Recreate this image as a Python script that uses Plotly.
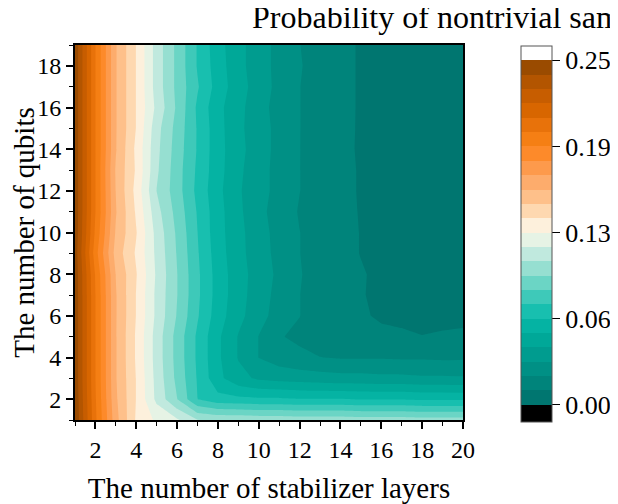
import plotly.graph_objects as go

# ---- data ----
layers = list(range(1, 21))          # x: number of stabilizer layers
qubits = list(range(1, 20))          # y: number of qubits

# probability of nontrivial samples, one row per qubit count (1..19), columns = layers 1..20
prob = [
    [0.249, 0.200, 0.160, 0.134, 0.123, 0.116, 0.1045, 0.1025, 0.102, 0.101, 0.101, 0.100, 0.100, 0.100, 0.099, 0.099, 0.099, 0.098, 0.098, 0.098],
    [0.248, 0.199, 0.158, 0.135, 0.112, 0.094, 0.073, 0.066, 0.065, 0.064, 0.064, 0.063, 0.063, 0.063, 0.062, 0.062, 0.062, 0.061, 0.061, 0.061],
    [0.247, 0.198, 0.157, 0.135, 0.111, 0.091, 0.072, 0.055, 0.045, 0.040, 0.038, 0.037, 0.036, 0.035, 0.035, 0.034, 0.034, 0.033, 0.033, 0.0325],
    [0.247, 0.198, 0.157, 0.134, 0.110, 0.090, 0.071, 0.054, 0.041, 0.031, 0.026, 0.023, 0.021, 0.020, 0.020, 0.020, 0.0195, 0.0195, 0.019, 0.0195],
    [0.247, 0.198, 0.157, 0.134, 0.110, 0.090, 0.071, 0.054, 0.041, 0.031, 0.0215, 0.019, 0.016, 0.014, 0.0125, 0.0115, 0.011, 0.0105, 0.0108, 0.011],
    [0.247, 0.198, 0.157, 0.135, 0.112, 0.093, 0.074, 0.057, 0.045, 0.035, 0.027, 0.021, 0.016, 0.0135, 0.011, 0.0098, 0.0096, 0.0094, 0.0095, 0.0096],
    [0.247, 0.198, 0.157, 0.135, 0.112, 0.094, 0.075, 0.058, 0.046, 0.036, 0.028, 0.021, 0.016, 0.013, 0.0108, 0.0092, 0.0085, 0.008, 0.008, 0.008],
    [0.247, 0.197, 0.156, 0.136, 0.113, 0.094, 0.075, 0.058, 0.046, 0.037, 0.029, 0.0215, 0.0165, 0.013, 0.011, 0.009, 0.008, 0.0075, 0.0075, 0.0075],
    [0.246, 0.192, 0.152, 0.134, 0.112, 0.093, 0.074, 0.057, 0.045, 0.036, 0.028, 0.021, 0.016, 0.0125, 0.0102, 0.0088, 0.008, 0.0075, 0.0072, 0.007],
    [0.247, 0.196, 0.155, 0.136, 0.111, 0.092, 0.073, 0.056, 0.045, 0.035, 0.028, 0.021, 0.016, 0.0125, 0.0102, 0.0085, 0.0078, 0.0072, 0.007, 0.0068],
    [0.247, 0.198, 0.157, 0.134, 0.108, 0.090, 0.072, 0.056, 0.044, 0.034, 0.027, 0.020, 0.016, 0.0125, 0.010, 0.0085, 0.0078, 0.0072, 0.007, 0.0068],
    [0.247, 0.198, 0.156, 0.132, 0.104, 0.088, 0.070, 0.055, 0.043, 0.035, 0.028, 0.021, 0.016, 0.0125, 0.0098, 0.0085, 0.0078, 0.0072, 0.007, 0.0068],
    [0.247, 0.198, 0.155, 0.134, 0.106, 0.088, 0.071, 0.056, 0.044, 0.035, 0.028, 0.021, 0.016, 0.0125, 0.0098, 0.0085, 0.0078, 0.0072, 0.007, 0.0068],
    [0.247, 0.198, 0.157, 0.133, 0.107, 0.089, 0.072, 0.056, 0.045, 0.036, 0.028, 0.021, 0.0165, 0.0125, 0.0095, 0.0085, 0.0078, 0.0072, 0.007, 0.0068],
    [0.247, 0.198, 0.157, 0.135, 0.108, 0.090, 0.072, 0.056, 0.044, 0.036, 0.028, 0.021, 0.017, 0.0128, 0.0095, 0.0085, 0.0078, 0.0072, 0.007, 0.0068],
    [0.247, 0.198, 0.157, 0.135, 0.112, 0.092, 0.071, 0.055, 0.045, 0.035, 0.0275, 0.021, 0.017, 0.013, 0.0095, 0.0085, 0.0078, 0.0072, 0.007, 0.0068],
    [0.247, 0.198, 0.157, 0.135, 0.110, 0.091, 0.074, 0.058, 0.046, 0.037, 0.028, 0.021, 0.017, 0.013, 0.0095, 0.0085, 0.0078, 0.0072, 0.007, 0.0068],
    [0.247, 0.198, 0.157, 0.135, 0.110, 0.091, 0.072, 0.057, 0.045, 0.036, 0.028, 0.0215, 0.017, 0.013, 0.0095, 0.0085, 0.0078, 0.0072, 0.007, 0.0068],
    [0.247, 0.198, 0.157, 0.135, 0.110, 0.091, 0.072, 0.056, 0.045, 0.036, 0.028, 0.021, 0.017, 0.013, 0.0095, 0.0085, 0.0078, 0.0072, 0.007, 0.0068],
]

cbar_tickvals = [0.0, 0.0625, 0.125, 0.1875, 0.25]
cbar_ticktext = ["0.00", "0.06", "0.13", "0.19", "0.25"]
x_tickvals = [2, 4, 6, 8, 10, 12, 14, 16, 18, 20]
y_tickvals = [2, 4, 6, 8, 10, 12, 14, 16, 18]

# band colours, bottom (0) to top (0.25); black below range, white above
band_colors = [
    "#007670", "#00847b", "#009085", "#009c8f", "#00a898", "#05b3a3",
    "#18bfaf", "#3ec9b9", "#6bd5c5", "#96dfd1", "#c0e9de", "#e6f3e5",
    "#fdf0dc", "#fed8b0", "#fec08a", "#fdac6c", "#fd9a4c", "#fd8a2a",
    "#f57f14", "#e8720a", "#d86600", "#c75d00", "#b35500", "#9a4b00",
]
under_color = "#000000"
over_color = "#ffffff"

n_bands = len(band_colors)
vmin, vmax = 0.0, 0.25
step = (vmax - vmin) / n_bands

# contour fill colorscale (sampled at band centres by plotly)
all_colors = [under_color] + band_colors + [over_color]
ncs = len(all_colors) - 1
contour_colorscale = [[i / ncs, c] for i, c in enumerate(all_colors)]

# stepped colorscale for the colour bar, with under/over swatches
cb_min = vmin - 1.2 * step
cb_max = vmax + 1.0 * step
def _pos(v):
    return (v - cb_min) / (cb_max - cb_min)
edges = [cb_min] + [vmin + k * step for k in range(n_bands + 1)] + [cb_max]
cb_scale = []
for i, c in enumerate(all_colors):
    cb_scale.append([_pos(edges[i]), c])
    cb_scale.append([_pos(edges[i + 1]), c])
cb_scale[0][0] = 0.0
cb_scale[-1][0] = 1.0

FONT = "Liberation Serif, Times New Roman, serif"

fig = go.Figure()
fig.add_trace(
    go.Contour(
        x=layers,
        y=qubits,
        z=prob,
        colorscale=contour_colorscale,
        autocontour=False,
        contours=dict(start=vmin, end=vmax, size=step, coloring="fill", showlines=False),
        line=dict(width=0, smoothing=0),
        showscale=False,
    )
)
# colour bar carrier (no visible points)
fig.add_trace(
    go.Scatter(
        x=[None], y=[None], mode="markers", showlegend=False, hoverinfo="skip",
        marker=dict(
            color=[vmin], cmin=cb_min, cmax=cb_max, colorscale=cb_scale, showscale=True,
            colorbar=dict(
                x=1.149, xanchor="left", xref="paper",
                y=0.496, yanchor="middle",
                len=1.003, lenmode="fraction",
                thickness=31, thicknessmode="pixels",
                outlinewidth=1, outlinecolor="#555555",
                tickvals=cbar_tickvals, ticktext=cbar_ticktext,
                ticks="outside", ticklen=8, tickwidth=1, tickcolor="#000",
                tickfont=dict(family=FONT, size=26, color="#000"),
                xpad=0, ypad=0,
            ),
        ),
    )
)

axis_common = dict(
    showline=True, linecolor="#000", linewidth=1.8, mirror=True,
    ticks="outside", ticklen=7, tickwidth=1.5, tickcolor="#000",
    tickfont=dict(family=FONT, size=24, color="#000"),
    showgrid=False, zeroline=False, automargin=False,
    minor=dict(dtick=1, ticks="outside", ticklen=4, tickwidth=1.2, tickcolor="#000"),
)

fig.update_xaxes(
    range=[1, 20], tickvals=x_tickvals, **axis_common,
    title=dict(text="The number of stabilizer layers", font=dict(family=FONT, size=29, color="#000"), standoff=17),
)
fig.update_yaxes(
    range=[1, 19], tickvals=y_tickvals, **axis_common,
    title=dict(text="The number of qubits", font=dict(family=FONT, size=29, color="#000"), standoff=6),
)

fig.add_annotation(
    text="Probability of nontrivial samples",
    xref="paper", yref="paper", x=0.452, y=1.0747,
    xanchor="left", yanchor="middle", showarrow=False,
    font=dict(family=FONT, size=32, color="#000"),
)

# the page body adds an 8 px offset, so the figure is 8 px smaller with margins shifted
fig.update_layout(
    width=610, height=496,
    margin=dict(l=67, r=155, t=37, b=84, autoexpand=False),
    paper_bgcolor="white", plot_bgcolor="white",
    font=dict(family=FONT, color="#000"),
)

fig.write_html("out.html")
